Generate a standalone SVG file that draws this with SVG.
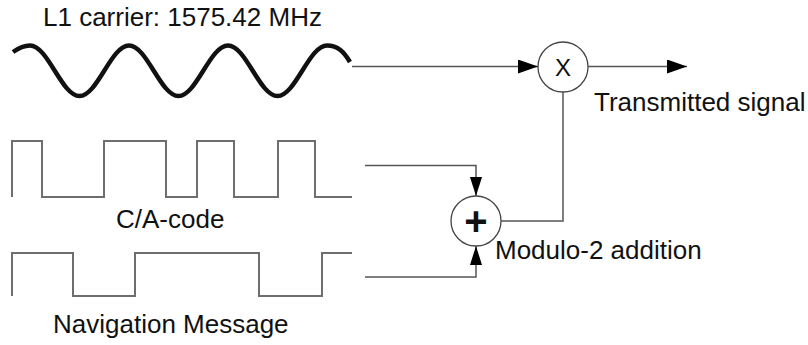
<svg xmlns="http://www.w3.org/2000/svg" width="808" height="345" viewBox="0 0 808 345">
<style>
  .txt { font-family: "Liberation Sans", Arial, sans-serif; font-size: 26px; fill: #111; }
  .wave { fill: none; stroke: #111; stroke-width: 4.5; stroke-linejoin: round; }
  .sq { fill: none; stroke: #6e6e6e; stroke-width: 2; }
  .wire { fill: none; stroke: #555; stroke-width: 1.5; }
  .op { fill: #fff; stroke: #444; stroke-width: 1.3; }
</style>
<defs>
  <marker id="arr" viewBox="0 0 20 14" markerWidth="20" markerHeight="14" refX="20" refY="7" orient="auto" markerUnits="userSpaceOnUse">
    <path d="M0,0 L20,7 L0,14 Z" fill="#000"/>
  </marker>
  <marker id="arrs" viewBox="0 0 19 12" markerWidth="19" markerHeight="12" refX="19" refY="6" orient="auto" markerUnits="userSpaceOnUse">
    <path d="M0,0 L19,6 L0,12 Z" fill="#000"/>
  </marker>
</defs>

<g id="carrier">
  <path class="wave" d="M13,52 C20,47 25,45.5 30,45.5 C48,45.5 61.5,96 79.5,96 C97.5,96 111,45.5 129,45.5 C147,45.5 160.5,96 178.5,96 C196.5,96 210,45.5 228,45.5 C246,45.5 259.5,96 277.5,96 C295.5,96 309,45.5 327,45.5 C338,45.5 344,52 350,62"/>
  <text class="txt" x="43" y="26">L1 carrier: 1575.42 MHz</text>
</g>

<g id="ca-code">
  <path class="sq" d="M12,197 V141 H42 V197 H104 V141 H166 V197 H197 V141 H234 V197 H278 V141 H315 V197 H352"/>
  <text class="txt" x="116" y="228">C/A-code</text>
</g>

<g id="nav-message">
  <path class="sq" d="M12,296 V253 H73 V296 H135 V253 H259 V296 H322 V253 H352"/>
  <text class="txt" x="53" y="333">Navigation Message</text>
</g>

<g id="modulo2">
  <circle class="op" cx="476" cy="221" r="25"/>
  <text x="476" y="234.5" text-anchor="middle" style="font-family:'Liberation Sans',Arial,sans-serif;font-size:40px;font-weight:bold;fill:#111">+</text>
  <text class="txt" x="495" y="259">Modulo-2 addition</text>
</g>

<g id="multiplier">
  <circle class="op" cx="563" cy="67" r="25"/>
  <text x="563" y="75.5" text-anchor="middle" style="font-family:'Liberation Sans',Arial,sans-serif;font-size:24px;fill:#111">X</text>
</g>

<g id="output">
  <text class="txt" x="594" y="111">Transmitted signal</text>
</g>

<g id="connectors">
  <path class="wire" d="M352,66.5 H538" marker-end="url(#arr)"/>
  <path class="wire" d="M588,66.5 H687" marker-end="url(#arr)"/>
  <path class="wire" d="M365,165.5 H476 V196" marker-end="url(#arrs)"/>
  <path class="wire" d="M365,277 H476 V246" marker-end="url(#arrs)"/>
  <path class="wire" d="M501,221 H563 V92"/>
</g>
</svg>
